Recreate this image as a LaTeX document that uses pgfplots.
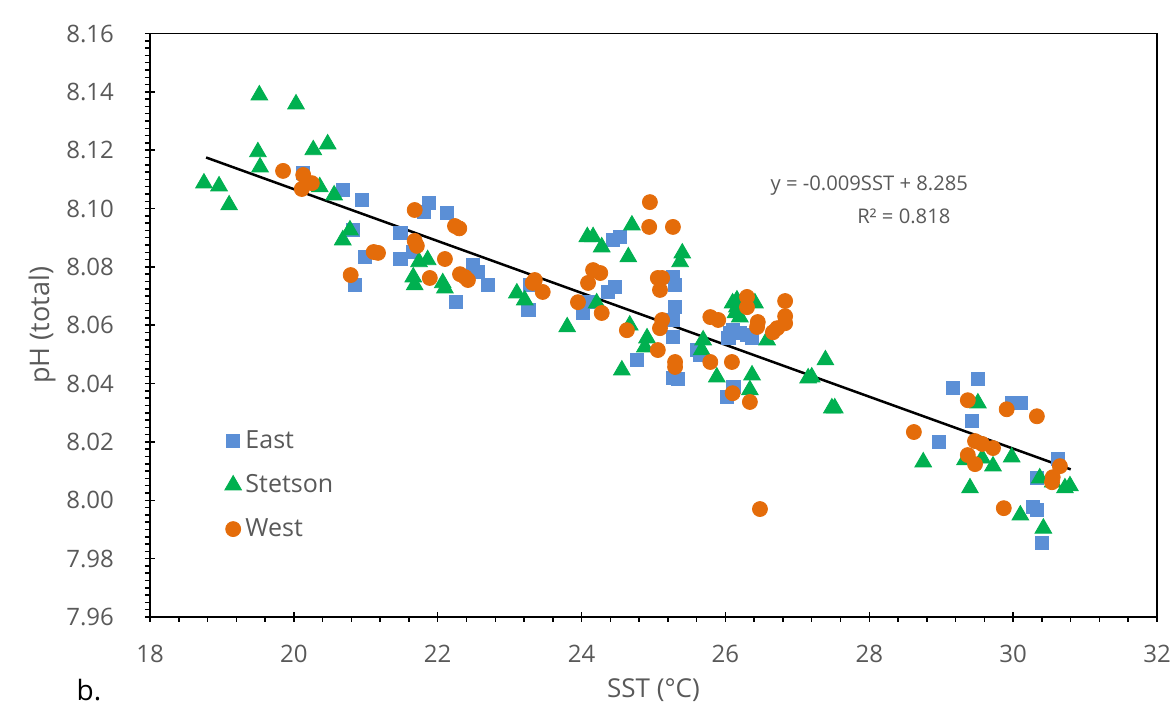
\documentclass[border=0pt]{standalone}
\usepackage{fontspec}
\setmainfont{Open Sans}
\usepackage{pgfplots}
\pgfplotsset{compat=1.18}
\definecolor{eastc}{HTML}{5B8FD6}
\definecolor{stetc}{HTML}{00B050}
\definecolor{westc}{HTML}{E46C0A}
\definecolor{txtc}{HTML}{595959}
\begin{document}
\begin{tikzpicture}
\begin{axis}[name=ax, scale only axis, width=503.5pt, height=291.75pt,
  xmin=18, xmax=32, ymin=7.96, ymax=8.16,
  xtick={18,20,22,24,26,28,30,32},
  ytick={7.96,7.98,8.00,8.02,8.04,8.06,8.08,8.10,8.12,8.14,8.16},
  minor x tick num=4, minor y tick num=7,
  tick align=center, major tick length=5pt, minor tick length=2.5pt,
  xtick pos=bottom, ytick pos=left,
  minor x tick style={yshift=-1.25pt}, minor y tick style={xshift=-1.25pt},
  axis line style={line width=0.75pt}, tick style={black, line width=0.75pt},
  yticklabel style={/pgf/number format/.cd, fixed, fixed zerofill, precision=2},
  /pgf/number format/assume math mode=true,
  ticklabel style={font=\fontsize{12}{14}\selectfont, text=txtc},
  xticklabel shift=8pt, yticklabel shift=12pt,
  xlabel={SST (°C)}, ylabel={pH (total)},
  every axis x label/.style={at={(axis description cs:0.5,-0.1251)}, anchor=center, font=\fontsize{13}{15}\selectfont, text=txtc},
  every axis y label/.style={at={(axis description cs:-0.1072,0.5)}, rotate=90, anchor=center, font=\fontsize{13.5}{15}\selectfont, text=txtc},
  legend style={draw=none, fill=none, at={(axis description cs:0.068,0.226)}, anchor=west, font=\fontsize{12.5}{14}\selectfont, text=txtc, row sep=7.5pt},
  legend cell align=left,
  clip=false,
]
\addplot[only marks, mark=square*, mark size=3.3pt, color=eastc] table {
x y
20.13 8.1122
20.68 8.1063
20.95 8.1029
21.88 8.1019
21.81 8.0988
22.13 8.0985
20.82 8.0926
21.48 8.0916
20.99 8.0834
21.48 8.0827
21.66 8.0851
20.85 8.0738
22.49 8.0806
22.56 8.0782
22.70 8.0738
22.25 8.0679
23.28 8.0738
23.26 8.0652
24.02 8.0642
24.09 8.0679
24.37 8.0714
24.46 8.0731
24.44 8.0892
24.53 8.0902
25.27 8.0765
25.30 8.0738
25.30 8.0662
25.27 8.0618
25.27 8.0560
24.77 8.0481
25.27 8.0419
25.34 8.0415
25.60 8.0515
25.65 8.0498
26.06 8.0573
26.10 8.0583
26.02 8.0354
26.11 8.0388
26.20 8.0573
26.30 8.0566
26.37 8.0556
26.04 8.0556
29.16 8.0384
29.51 8.0415
29.98 8.0333
30.10 8.0333
29.43 8.0271
28.97 8.0200
30.62 8.0141
30.33 8.0076
30.28 7.9977
30.33 7.9966
30.40 7.9853
};
\addlegendentry{East}
\addplot[only marks, mark=triangle*, mark size=4.8pt, color=stetc] table {
x y
19.52 8.1389
20.03 8.1358
19.50 8.1194
19.53 8.1142
18.75 8.1087
18.96 8.1077
19.10 8.1012
20.27 8.1201
20.47 8.1221
20.36 8.1074
20.56 8.1046
20.78 8.0926
20.68 8.0892
21.74 8.0817
21.86 8.0824
21.66 8.0765
21.68 8.0738
22.07 8.0745
22.10 8.0727
23.10 8.0710
23.21 8.0686
24.08 8.0903
24.16 8.0903
24.28 8.0868
24.70 8.0943
24.65 8.0834
23.80 8.0594
24.21 8.0676
24.67 8.0600
24.91 8.0556
24.88 8.0525
24.56 8.0446
25.40 8.0847
25.37 8.0817
25.69 8.0549
25.67 8.0515
25.88 8.0422
26.10 8.0676
26.16 8.0686
26.16 8.0662
26.14 8.0642
26.20 8.0628
26.41 8.0676
26.58 8.0549
26.37 8.0429
26.34 8.0378
27.15 8.0419
27.20 8.0422
27.39 8.0481
27.48 8.0316
27.52 8.0316
29.51 8.0333
28.75 8.0131
29.33 8.0138
29.57 8.0144
29.72 8.0117
29.98 8.0148
29.40 8.0042
30.37 8.0076
30.55 8.0062
30.72 8.0042
30.79 8.0049
30.10 7.9949
30.42 7.9904
};
\addlegendentry{Stetson}
\addplot[only marks, mark=*, mark size=3.75pt, color=westc] table {
x y
19.85 8.1129
20.13 8.1115
20.25 8.1087
20.11 8.1067
21.68 8.0995
21.68 8.0889
21.71 8.0872
21.11 8.0851
21.17 8.0848
20.79 8.0772
22.24 8.0940
22.30 8.0932
22.10 8.0827
22.31 8.0775
22.38 8.0765
22.42 8.0755
21.89 8.0762
23.32 8.0745
23.35 8.0755
23.46 8.0714
24.95 8.1022
24.94 8.0937
25.27 8.0937
24.16 8.0789
24.26 8.0779
24.09 8.0745
23.95 8.0679
24.28 8.0642
25.06 8.0762
25.12 8.0762
25.09 8.0721
25.12 8.0618
25.09 8.0590
24.63 8.0583
25.06 8.0515
25.30 8.0474
25.30 8.0457
25.79 8.0628
25.90 8.0618
25.79 8.0474
26.09 8.0474
26.10 8.0367
26.30 8.0697
26.30 8.0662
26.45 8.0611
26.44 8.0594
26.34 8.0337
26.83 8.0683
26.83 8.0631
26.83 8.0607
26.72 8.0590
26.66 8.0576
26.48 7.9970
29.37 8.0343
29.91 8.0312
30.33 8.0288
28.62 8.0234
29.47 8.0203
29.57 8.0193
29.72 8.0179
29.37 8.0155
29.47 8.0124
30.55 8.0079
30.54 8.0062
30.65 8.0117
29.87 7.9973
};
\addlegendentry{West}
\addplot[black, line width=1.25pt, no marks, forget plot] coordinates {(18.78,8.1175) (30.80,8.0106)};
\node[anchor=center, font=\fontsize{10.1}{12}\selectfont, text=txtc] at (axis cs:28.00,8.1080) {y = -0.009SST + 8.285};
\node[anchor=center, font=\fontsize{10.1}{12}\selectfont, text=txtc] at (axis cs:28.48,8.0974) {R² = 0.818};
\node[anchor=center, font=\fontsize{14}{16}\selectfont, text=black] at (axis description cs:-0.0606,-0.1251) {b.};
\end{axis}
\pgfresetboundingbox
\path ([xshift=-75pt,yshift=-47pt]ax.south west) rectangle ([xshift=8pt,yshift=16.75pt]ax.north east);
\end{tikzpicture}
\end{document}
